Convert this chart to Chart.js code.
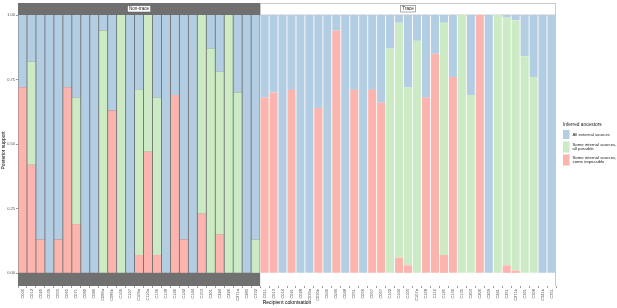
<!DOCTYPE html>
<html>
<head>
<meta charset="utf-8">
<script src="https://cdn.jsdelivr.net/npm/chart.js@4.4.0/dist/chart.umd.min.js"></script>
<style>
  html, body { margin: 0; padding: 0; background: #fff; }
</style>
</head>
<body>
<canvas id="chart" width="617" height="308"></canvas>
<script>
// Facets: recipient colonisations
const nonTraceLabels = ['C006','C012','C020','C039','C055','C065','C071','C082','C086','C086a','C086b','C106','C107',
  'C109a','C110a','C136','C138','C140','C142','C144','C153','C201','C224','C226','C271a','C283','C332'];
const traceLabels = ['C011','C013','C014','C021','C028','C030a','C030b','C040','C046','C048','C051','C056','C057',
  'C067','C102','C104','C105','C107a','C108','C110','C125','C130','C135','C203','C206','C209','C241','C251',
  'C271b','C301','C308','C341b','C351'];
const facetNames = ['Non-trace', 'Trace'];

// Posterior support per colonisation (non-trace first, then trace)
const someImpossible = [
  0.72, 0.42, 0.13, 0, 0.13, 0.72, 0.19, 0, 0, 0, 0.63, 0, 0, 0.07, 0.47, 0.07, 0, 0.69, 0.13, 0, 0.23, 0, 0.15, 0, 0, 0, 0,
  0.68, 0.70, 0, 0.71, 0, 0, 0.64, 0, 0.94, 0, 0.71, 0, 0.71, 0.66, 0, 0.06, 0.03, 0, 0.68, 0.85, 0.07, 0.76, 0, 0, 1, 0, 0,
  0.03, 0.01, 0, 0, 0, 0
];
const allPossible = [
  0, 0.40, 0, 0, 0, 0, 0.49, 0, 0, 0.94, 0, 1, 0, 0.64, 0.53, 0.61, 0, 0, 0, 0, 0.77, 0.87, 0.63, 1, 0.70, 0, 0.13,
  0, 0, 0, 0, 0, 0, 0, 0, 0, 0, 0, 0, 0, 0, 0.87, 0.91, 0.69, 0.90, 0, 0, 0.90, 0, 1, 0.69, 0, 0, 1,
  0.96, 0.97, 0.84, 0.76, 0, 0
];
const allExternal = [
  0.28, 0.18, 0.87, 1, 0.87, 0.28, 0.32, 1, 1, 0.06, 0.37, 0, 1, 0.29, 0, 0.32, 1, 0.31, 0.87, 1, 0, 0.13, 0.22, 0, 0.30, 1, 0.87,
  0.32, 0.30, 1, 0.29, 1, 1, 0.36, 1, 0.06, 1, 0.29, 1, 0.29, 0.34, 0.13, 0.03, 0.28, 0.10, 0.32, 0.15, 0.03, 0.24, 0, 0.31, 0, 1, 0,
  0.01, 0.02, 0.16, 0.24, 1, 1
];
const yTicks = [0, 0.25, 0.5, 0.75, 1];

const seriesNames = ['Some internal sources,\nsome impossible', 'Some internal sources,\nall possible', 'All external sources'];
const seriesColors = ['#fbb4ae', '#ccebc5', '#b3cde3'];

const FONT = "'Liberation Sans', Arial, sans-serif";
Chart.defaults.font.family = FONT;

// facet panels, strips and legend
const facetPlugin = {
  id: 'facets',
  beforeDatasetsDraw(chart) {
    const { ctx, chartArea: a, scales: { x } } = chart;
    const n = nonTraceLabels.length;
    const split = (x.getPixelForValue(n - 1) + x.getPixelForValue(n)) / 2;
    const stripTop = 3;
    ctx.save();
    ctx.fillStyle = '#707070';
    ctx.fillRect(a.left, a.top, split - a.left, a.bottom - a.top);
    ctx.fillRect(a.left, stripTop, split - a.left, a.top - stripTop);
    ctx.strokeStyle = '#b5b5b5';
    ctx.lineWidth = 0.7;
    ctx.strokeRect(split + 0.5, stripTop + 0.5, a.right - split - 1, a.top - stripTop - 0.5);
    ctx.beginPath();
    ctx.moveTo(a.right - 0.5, a.top);
    ctx.lineTo(a.right - 0.5, a.bottom);
    ctx.stroke();

    // strip labels in small boxes
    ctx.font = '4.6px ' + FONT;
    ctx.textAlign = 'center';
    ctx.textBaseline = 'middle';
    const centers = [(a.left + split) / 2, (split + a.right) / 2];
    facetNames.forEach((name, i) => {
      const w = ctx.measureText(name).width + 3;
      const cx = centers[i], cy = 8.8;
      ctx.fillStyle = '#fff';
      ctx.fillRect(cx - w / 2, cy - 3.2, w, 6.4);
      ctx.strokeStyle = '#555';
      ctx.lineWidth = 0.5;
      ctx.strokeRect(cx - w / 2, cy - 3.2, w, 6.4);
      ctx.fillStyle = '#1a1a1a';
      ctx.fillText(name, cx, cy + 0.2);
    });
    ctx.restore();
  },
  afterDraw(chart) {
    const { ctx } = chart;
    ctx.save();
    ctx.fillStyle = '#1a1a1a';
    ctx.textAlign = 'left';
    ctx.textBaseline = 'middle';
    ctx.font = '4.8px ' + FONT;
    ctx.fillText('Inferred ancestors', 563, 124.5);
    // legend: top entry is the top of the stack
    const keys = [
      { s: 2, y: 130, h: 9 },
      { s: 1, y: 141.5, h: 11 },
      { s: 0, y: 154.5, h: 11 }
    ];
    ctx.font = '4.3px ' + FONT;
    keys.forEach(k => {
      ctx.fillStyle = seriesColors[k.s];
      ctx.fillRect(563, k.y, 6.5, k.h);
      ctx.fillStyle = '#1a1a1a';
      const lines = seriesNames[k.s].split('\n');
      const mid = k.y + k.h / 2;
      lines.forEach((ln, j) => {
        ctx.fillText(ln, 572.5, mid + (j - (lines.length - 1) / 2) * 4.6);
      });
    });
    ctx.restore();
  }
};

new Chart(document.getElementById('chart'), {
  type: 'bar',
  data: {
    labels: nonTraceLabels.concat(traceLabels),
    datasets: [
      { label: seriesNames[0], data: someImpossible, backgroundColor: seriesColors[0] },
      { label: seriesNames[1], data: allPossible, backgroundColor: seriesColors[1] },
      { label: seriesNames[2], data: allExternal, backgroundColor: seriesColors[2] }
    ]
  },
  options: {
    responsive: false,
    animation: false,
    devicePixelRatio: 1,
    datasets: { bar: { barPercentage: 0.9, categoryPercentage: 1, borderWidth: 0 } },
    layout: { padding: { top: 15, right: 61, bottom: 0, left: 0 } },
    plugins: { legend: { display: false }, tooltip: { enabled: false } },
    scales: {
      x: {
        stacked: true,
        grid: { drawOnChartArea: false, drawTicks: true, tickLength: 2, color: '#333', lineWidth: 0.5 },
        border: { display: false },
        ticks: { autoSkip: false, minRotation: 90, maxRotation: 90, padding: 1, color: '#4d4d4d', font: { size: 4 } },
        title: { display: true, text: 'Recipient colonisation', color: '#000', font: { size: 5 }, padding: { top: 0, bottom: 2 } },
        afterFit(scale) { scale.height = 22; }
      },
      y: {
        stacked: true,
        min: -0.05,
        max: 1,
        afterBuildTicks(scale) { scale.ticks = yTicks.map(v => ({ value: v })); },
        grid: { drawOnChartArea: false, drawTicks: true, tickLength: 2, color: '#333', lineWidth: 0.5 },
        border: { display: false },
        ticks: { padding: 1, color: '#4d4d4d', font: { size: 4 }, callback: v => v.toFixed(2) },
        title: { display: true, text: 'Posterior support', color: '#000', font: { size: 5 }, padding: { top: 1, bottom: 0 } },
        afterFit(scale) { scale.width = 18; }
      }
    }
  },
  plugins: [facetPlugin]
});
</script>
</body>
</html>
